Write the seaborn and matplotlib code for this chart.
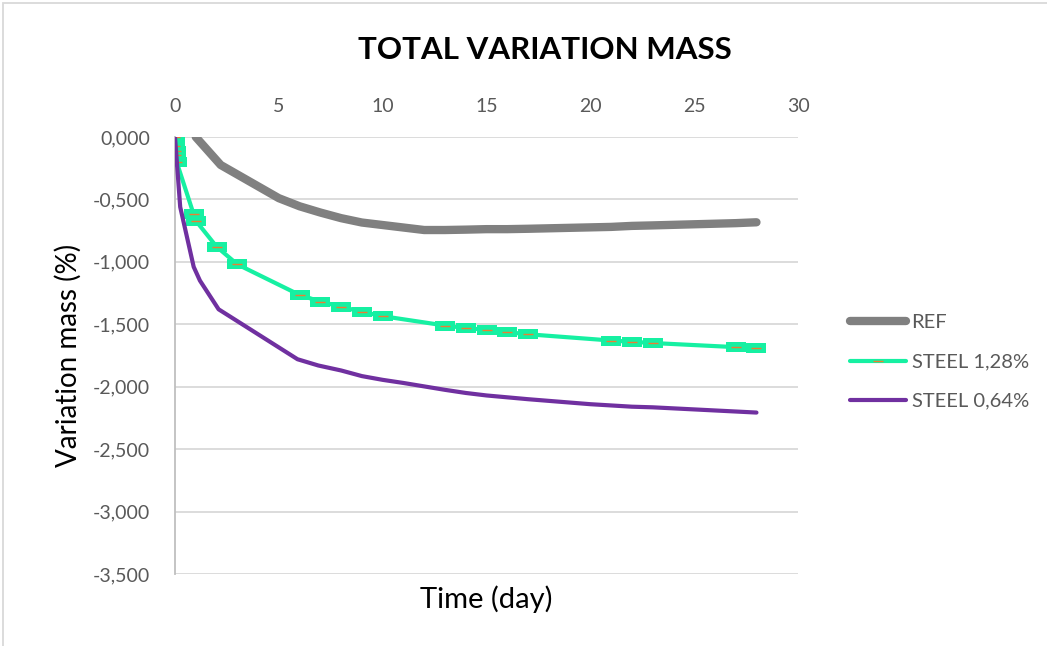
import numpy as np
import pandas as pd
import matplotlib
matplotlib.use("Agg")
import matplotlib.pyplot as plt
import seaborn as sns
from matplotlib.lines import Line2D
from matplotlib.patches import Rectangle
from matplotlib.ticker import FuncFormatter

# --- data ---
ref_days = [1.0, 2.2, 5.0, 6.0, 7.0, 8.0, 9.0, 10.0, 12.0, 13.0, 14.0, 15.0,
            16.0, 17.0, 21.0, 22.0, 23.0, 27.0, 28.0]
ref_mass = [0.0, -0.224, -0.49, -0.555, -0.605, -0.65, -0.685, -0.705, -0.745,
            -0.745, -0.742, -0.738, -0.738, -0.735, -0.72, -0.712, -0.708,
            -0.69, -0.683]

s128_days = [0.0, 0.02, 0.04, 0.06, 0.08, 0.9, 1.0, 2.0, 3.0, 6.0, 7.0, 8.0,
             9.0, 10.0, 13.0, 14.0, 15.0, 16.0, 17.0, 21.0, 22.0, 23.0, 27.0, 28.0]
s128_mass = [0.0, -0.075, -0.11, -0.145, -0.2, -0.62, -0.67, -0.878, -1.02,
             -1.265, -1.318, -1.36, -1.40, -1.435, -1.51, -1.53, -1.545, -1.563,
             -1.58, -1.63, -1.64, -1.65, -1.683, -1.69]

s064_days = [0.0, 0.25, 0.9, 1.2, 2.1, 5.9, 6.9, 8.0, 9.0, 10.0, 11.0, 13.0,
             14.0, 15.0, 16.0, 17.0, 20.0, 21.0, 22.0, 23.0, 28.0]
s064_mass = [0.0, -0.56, -1.04, -1.15, -1.38, -1.78, -1.83, -1.87, -1.915,
             -1.945, -1.97, -2.025, -2.05, -2.07, -2.085, -2.10, -2.14, -2.15,
             -2.16, -2.165, -2.207]

labels = ["REF", "STEEL 1,28%", "STEEL 0,64%"]

GRAY = "#808080"
AQUA = "#16F0A2"
PURPLE = "#7030A0"
ORANGE = "#ED7D31"
TXT = "#595959"

sns.set_style("white")
plt.rcParams["font.family"] = ["Lato", "DejaVu Sans"]

fig = plt.figure(figsize=(10.47, 6.46), dpi=100)
ax = fig.add_axes([175 / 1047, 1 - 574 / 646, (798 - 175) / 1047, (574 - 137) / 646])

df_ref = pd.DataFrame({"day": ref_days, "mass": ref_mass})
df_128 = pd.DataFrame({"day": s128_days, "mass": s128_mass})
df_064 = pd.DataFrame({"day": s064_days, "mass": s064_mass})

rect_marker = [(-1, -0.5), (1, -0.5), (1, 0.5), (-1, 0.5), (-1, -0.5)]

sns.lineplot(data=df_ref, x="day", y="mass", ax=ax, color=GRAY, lw=6,
             estimator=None, sort=False, solid_capstyle="round", zorder=3)
sns.lineplot(data=df_128, x="day", y="mass", ax=ax, color=AQUA, lw=3,
             estimator=None, sort=False, zorder=4)
# Excel-style dash markers: aqua block with an orange dash inside
ax.plot(df_128["day"], df_128["mass"], ls="none", marker=rect_marker, markersize=14,
        mfc=AQUA, mec="none", mew=0, zorder=4.5)
ax.plot(df_128["day"], df_128["mass"], ls="none", marker="_", markersize=7,
        mew=1, color=ORANGE, zorder=5)
sns.lineplot(data=df_064, x="day", y="mass", ax=ax, color=PURPLE, lw=3,
             estimator=None, sort=False, solid_capstyle="round", zorder=6)

ax.set_xlim(0, 30)
ax.set_ylim(-3.5, 0)
ax.set_xticks(np.arange(0, 31, 5))
ax.set_yticks(np.arange(-3.5, 0.01, 0.5))
ax.yaxis.set_major_formatter(FuncFormatter(lambda v, p: f"{v:.3f}".replace(".", ",").replace("-0,000", "0,000")))
ax.xaxis.tick_top()
ax.xaxis.set_label_position("bottom")
ax.tick_params(axis="both", length=0, labelsize=14, colors=TXT)
ax.tick_params(axis="x", pad=16)
ax.tick_params(axis="y", pad=18)

ax.grid(axis="y", color="#D9D9D9", lw=1.3)
ax.grid(axis="x", visible=False)
for s in ["top", "right", "bottom"]:
    ax.spines[s].set_visible(False)
ax.spines["left"].set_color("#BFBFBF")
ax.spines["left"].set_linewidth(1.3)

ax.set_xlabel("Time (day)", fontsize=21, color="black", labelpad=8)
ax.set_ylabel("Variation mass (%)", fontsize=20, color="black", labelpad=8)
fig.text(545 / 1047, 1 - 50 / 646, "TOTAL VARIATION MASS", fontsize=22.5, fontweight="bold",
         color="black", ha="center", va="center")

handles = [
    Line2D([], [], color=GRAY, lw=6, solid_capstyle="round"),
    Line2D([], [], color=AQUA, lw=3, marker="_", markersize=7, mew=1,
           markeredgecolor=ORANGE),
    Line2D([], [], color=PURPLE, lw=3),
]
leg = fig.legend(handles, labels, loc="center left", bbox_to_anchor=(832 / 1047, 1 - 362 / 646),
                 frameon=False, fontsize=14.5, handlelength=2.75, handletextpad=0.3,
                 labelspacing=1.1)
for t in leg.get_texts():
    t.set_color(TXT)

fig.patches.append(Rectangle((3 / 1047, -0.1), 1.2, (0.1 + 1 - 3 / 646), transform=fig.transFigure,
                             fill=False, edgecolor="#D9D9D9", lw=1.3))

fig.savefig("out.png", dpi=100)
plt.close(fig)
